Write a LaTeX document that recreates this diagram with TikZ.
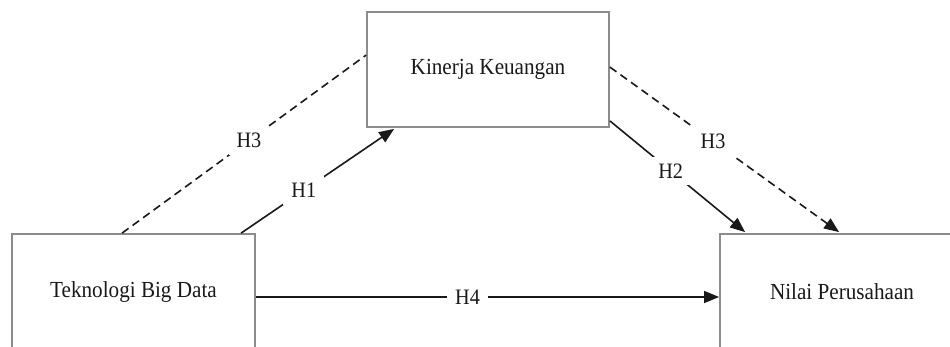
\documentclass[tikz,border=0pt]{standalone}
\usepackage{fontspec}
\setmainfont{Liberation Serif}
\usetikzlibrary{arrows.meta,calc}
\newcommand\condtext[1]{\scalebox{0.92}[1]{#1}}
\begin{document}
\begin{tikzpicture}[x=1pt,y=-1pt,
  varbox/.style={draw=black!45,line width=1.8pt,fill=white,inner sep=0pt,font=\fontsize{23}{26}\selectfont,text=black!90},
  link/.style={line width=1.6pt,draw=black!90},
  dlink/.style={link,dash pattern=on 8pt off 5pt},
  tip/.style={-{Triangle[length=15pt,width=12pt]}},
  hlab/.style={fill=white,inner xsep=8pt,inner ysep=7pt,font=\fontsize{22}{24}\selectfont,text=black!90}]
\useasboundingbox (0,0) rectangle (950,347);
\clip (0,0) rectangle (950,347);
\fill[white] (0,0) rectangle (950,347);
\node[varbox,minimum width=242pt,minimum height=115pt] (kin) at (488,69.5) {\condtext{Kinerja Keuangan}};
\node[varbox,minimum width=243pt,minimum height=116pt] (tek) at (133.5,292) {\condtext{Teknologi Big Data}};
\node[varbox,minimum width=244pt,minimum height=116pt] (nil) at (842,292) {\condtext{Nilai Perusahaan}};
% H3 left (dashed, no arrow)
\draw[dlink] ($(tek.north west)+(111,0)$) -- node[hlab,pos=0.52] (h3a) {\condtext{H3}} ($(kin.north west)+(0,44)$);
% H1
\draw[link,tip] ($(tek.north west)+(230,0)$) -- node[hlab,pos=0.41] (h1) {\condtext{H1}} ($(kin.south west)+(28,1)$);
% H3 right (dashed arrow)
\draw[dlink,tip] ($(kin.north east)+(0,56)$) -- node[hlab,pos=0.45] (h3b) {\condtext{H3}} ($(nil.north west)+(120,-1)$);
% H2
\draw[link,tip] ($(kin.south east)+(0,-7)$) -- node[hlab,pos=0.45] (h2) {\condtext{H2}} ($(nil.north west)+(26,-1)$);
% H4
\draw[link,tip] ($(tek.east)+(0,5)$) -- node[hlab,pos=0.457] (h4) {\condtext{H4}} ($(nil.west)+(0,5)$);
\end{tikzpicture}
\end{document}
